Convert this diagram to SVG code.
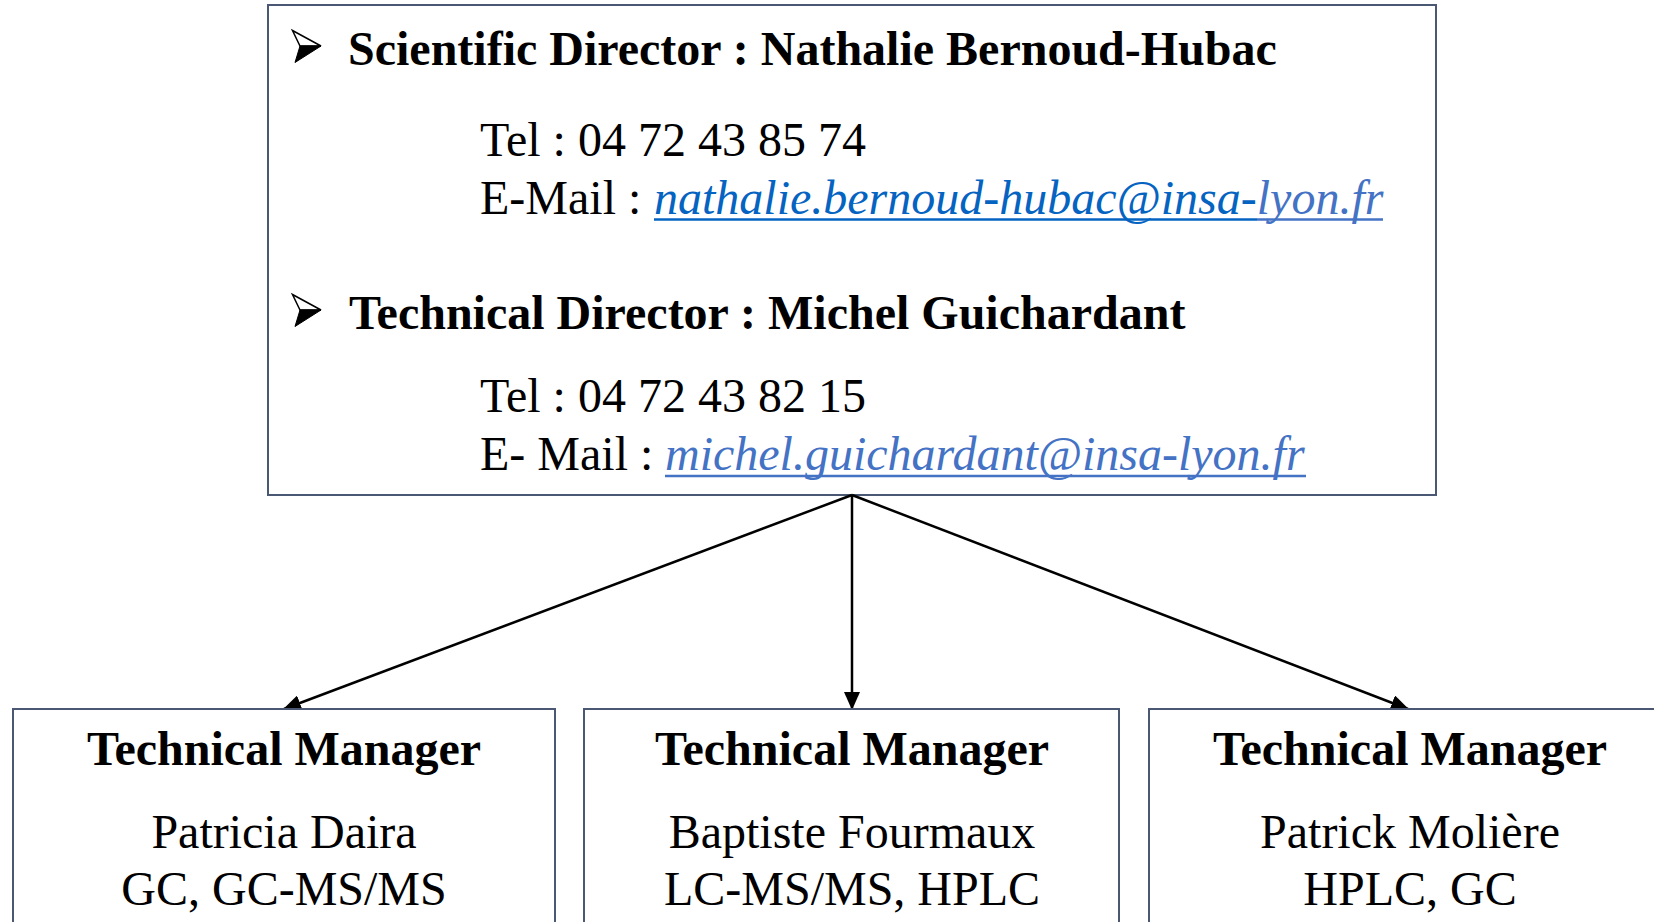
<svg xmlns="http://www.w3.org/2000/svg" width="1654" height="922" viewBox="0 0 1654 922">
  <style>
    .box { fill: #ffffff; stroke: #4a5873; stroke-width: 2; }
    .t { font-family: "Liberation Serif", "Times New Roman", serif; font-size: 48px; fill: #000000; }
    .b { font-weight: bold; }
    .c { text-anchor: middle; }
    .link { font-style: italic; }
    .dark { fill: #0563c1; }
    .light { fill: #4472c4; }
    .edge { stroke: #000000; stroke-width: 2.5; fill: none; marker-end: url(#arrow); }
  </style>
  <defs>
    <marker id="arrow" markerUnits="userSpaceOnUse" markerWidth="18" markerHeight="16" viewBox="0 0 18 16" refX="17" refY="8" orient="auto">
      <path d="M0,0 L18,8 L0,16 Z" fill="#000000"/>
    </marker>
    <!-- 3D arrowhead bullet -->
    <g id="bullet">
      <polygon points="292.5,30.5 321,46 300,46" fill="#ffffff" stroke="#000000" stroke-width="1.5" stroke-linejoin="miter"/>
      <polygon points="300,46 321,46 295,62.5" fill="#000000" stroke="#000000" stroke-width="1"/>
    </g>
  </defs>

  <rect width="1654" height="922" fill="#ffffff"/>

  <!-- Directors -->
  <g id="directors">
    <rect class="box" x="268" y="5" width="1168" height="490"/>

    <use href="#bullet"/>
    <text class="t b" x="348" y="65">Scientific Director : Nathalie Bernoud-Hubac</text>
    <text class="t" x="480" y="156">Tel : 04 72 43 85 74</text>
    <text class="t" x="480" y="214">E-Mail : </text>
    <text class="t link" x="654" y="214"><tspan class="dark">nathalie.bernoud-hubac@insa-</tspan><tspan class="light">lyon.fr</tspan></text>
    <line x1="654" y1="219.5" x2="1257" y2="219.5" stroke="#0563c1" stroke-width="2.5"/>
    <line x1="1257" y1="219.5" x2="1383" y2="219.5" stroke="#4472c4" stroke-width="2.5"/>

    <use href="#bullet" transform="translate(0,264)"/>
    <text class="t b" x="349" y="329">Technical Director : Michel Guichardant</text>
    <text class="t" x="480" y="412">Tel : 04 72 43 82 15</text>
    <text class="t" x="480" y="470">E- Mail : </text>
    <text class="t link light" x="665" y="470">michel.guichardant@insa-lyon.fr</text>
    <line x1="665" y1="476" x2="1306" y2="476" stroke="#4472c4" stroke-width="2.5"/>
  </g>

  <!-- Connectors -->
  <g id="connectors">
    <line class="edge" x1="852" y1="495" x2="284" y2="709"/>
    <line class="edge" x1="852" y1="495" x2="852" y2="709"/>
    <line class="edge" x1="852" y1="495" x2="1408" y2="709"/>
  </g>

  <!-- Technical managers -->
  <g id="manager-daira">
    <rect class="box" x="13" y="709" width="542" height="260"/>
    <text class="t b c" x="284" y="765">Technical Manager</text>
    <text class="t c" x="284" y="848">Patricia Daira</text>
    <text class="t c" x="284" y="905">GC, GC-MS/MS</text>
  </g>

  <g id="manager-fourmaux">
    <rect class="box" x="584" y="709" width="535" height="260"/>
    <text class="t b c" x="852" y="765">Technical Manager</text>
    <text class="t c" x="852" y="848">Baptiste Fourmaux</text>
    <text class="t c" x="852" y="905">LC-MS/MS, HPLC</text>
  </g>

  <g id="manager-moliere">
    <rect class="box" x="1149" y="709" width="522" height="260"/>
    <text class="t b c" x="1410" y="765">Technical Manager</text>
    <text class="t c" x="1410" y="848">Patrick Molière</text>
    <text class="t c" x="1410" y="905">HPLC, GC</text>
  </g>
</svg>
